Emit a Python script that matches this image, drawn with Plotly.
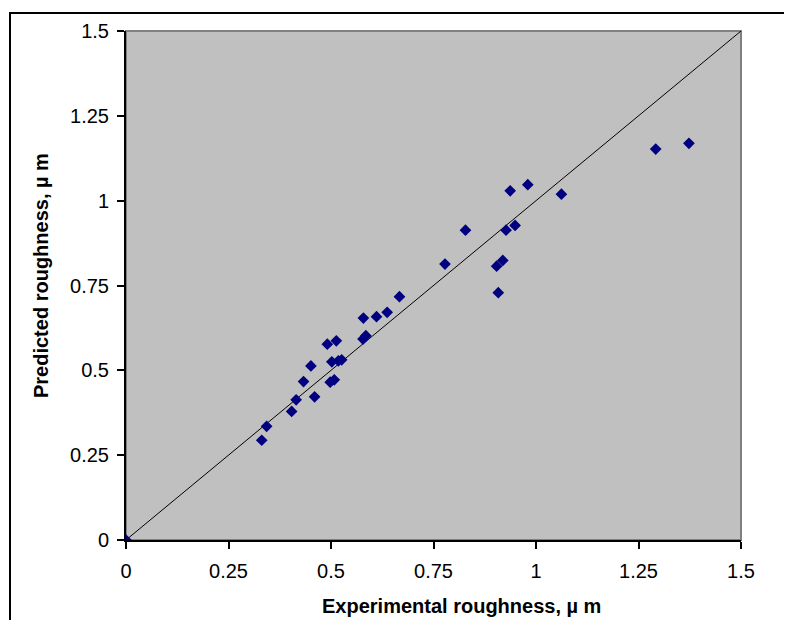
import plotly.graph_objects as go

experimental = [0.0, 0.331, 0.343, 0.404, 0.415, 0.433, 0.451, 0.460, 0.498, 0.508,
                0.491, 0.513, 0.502, 0.518, 0.526, 0.579, 0.578, 0.585, 0.611, 0.637,
                0.667, 0.828, 0.778, 0.937, 0.980, 1.062, 0.927, 0.949, 0.904, 0.919,
                0.908, 1.292, 1.373]
predicted = [0.0, 0.294, 0.335, 0.379, 0.413, 0.467, 0.513, 0.422, 0.465, 0.472,
             0.577, 0.587, 0.525, 0.528, 0.531, 0.654, 0.592, 0.602, 0.658, 0.671,
             0.717, 0.913, 0.813, 1.029, 1.047, 1.019, 0.913, 0.927, 0.807, 0.824,
             0.729, 1.152, 1.169]
line_x = [0, 1.5]
line_y = [0, 1.5]
ticks = [0, 0.25, 0.5, 0.75, 1, 1.25, 1.5]
tick_text = ["0", "0.25", "0.5", "0.75", "1", "1.25", "1.5"]
x_title = "<b>Experimental roughness, µ m</b>"
y_title = "<b>Predicted roughness, µ m</b>"

fig = go.Figure()
fig.add_trace(go.Scatter(x=line_x, y=line_y, mode="lines",
                         line=dict(color="black", width=1), hoverinfo="skip"))
fig.add_trace(go.Scatter(x=experimental, y=predicted, mode="markers",
                         marker=dict(symbol="diamond", size=9, color="#000080")))

W, H = 776, 612
L, R, T, B = 118, 43, 21, 80
pw, ph = W - L - R, H - T - B
def px(x): return (x - L) / pw
def py(y): return (H - B - y) / ph

font = dict(family="Liberation Sans, Arial, sans-serif", size=20, color="black")
axis_common = dict(range=[0, 1.5], tickvals=ticks, ticktext=tick_text, showgrid=False,
                   zeroline=False, showline=True, linecolor="black", linewidth=2,
                   ticks="outside", ticklen=7, tickwidth=2, tickcolor="black")
fig.update_layout(
    width=W, height=H, margin=dict(l=L, r=R, t=T, b=B),
    paper_bgcolor="white", plot_bgcolor="#C0C0C0", showlegend=False,
    font=font,
    xaxis=dict(**axis_common, ticklabelstandoff=5),
    yaxis=dict(**axis_common, ticklabelstandoff=4),
    shapes=[
        dict(type="rect", xref="paper", yref="paper", x0=0, y0=0, x1=1, y1=1,
             line=dict(color="#808080", width=2), layer="below"),
        dict(type="rect", xref="paper", yref="paper", x0=px(2), y0=py(3),
             x1=px(800), y1=py(640), line=dict(color="black", width=2)),
    ],
    annotations=[
        dict(text=x_title, xref="paper", yref="paper", x=px(453), y=py(611),
             showarrow=False, xanchor="center", yanchor="bottom", font=dict(size=20)),
        dict(text=y_title, xref="paper", yref="paper", x=px(33), y=py(267),
             showarrow=False, xanchor="center", yanchor="middle", textangle=-90,
             font=dict(size=20)),
    ],
)
fig.write_html("out.html")
